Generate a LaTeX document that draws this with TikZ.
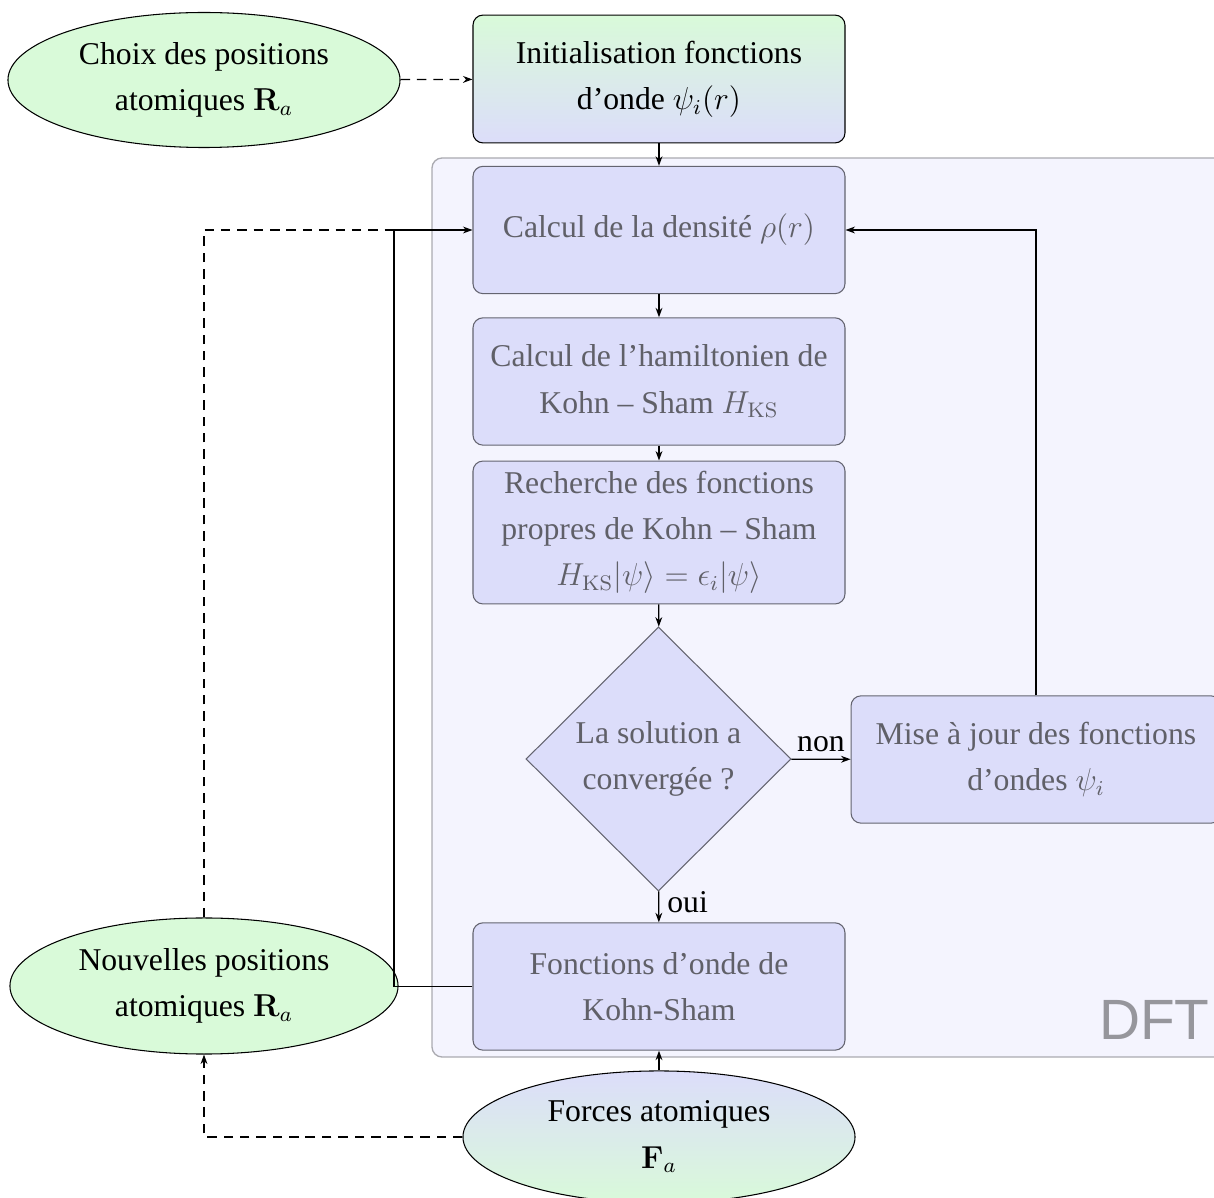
\documentclass[tikz,border=0pt]{standalone}
\usepackage[no-math]{fontspec}
\setmainfont{Liberation Serif}
\newfontfamily\dftfont{Liberation Sans}
\usetikzlibrary{shapes.geometric,arrows.meta}
\definecolor{ellgreen}{RGB}{217,250,217}
\definecolor{boxblue}{RGB}{220,221,250}
\definecolor{innerfill}{RGB}{220,221,250}
\definecolor{innerdraw}{RGB}{100,100,112}
\definecolor{innertext}{RGB}{96,96,104}
\definecolor{dftfill}{RGB}{244,244,254}
\definecolor{dftdraw}{RGB}{170,170,176}
\definecolor{dfttext}{RGB}{150,150,156}
\tikzset{
  txt/.style={font=\fontsize{12}{17.5}\selectfont, align=flush center, inner sep=0pt},
  outerbox/.style={txt, draw=black, rounded corners=3.8pt, minimum width=140.8pt, minimum height=48.4pt, text width=136pt},
  innerbox/.style={txt, draw=innerdraw, fill=innerfill, text=innertext, rounded corners=3.8pt, minimum width=140.8pt, minimum height=48.2pt, text width=136pt},
  ell/.style={txt, draw=black, ellipse, minimum width=148.4pt, minimum height=51.1pt},
  lbl/.style={font=\fontsize{12}{14}\selectfont, text=black},
  flow/.style={->, line width=0.45pt},
  dflow/.style={line width=0.45pt, dash pattern=on 3.6pt off 2.6pt},
  >={Stealth[length=3.6pt,width=2.6pt]}
}
\begin{document}
\begin{tikzpicture}[x=0.3785pt, y=-0.3785pt]
\useasboundingbox (0,0) rectangle (1214,1198);
\clip (0,0) rectangle (1214,1198);
% DFT region
\draw[draw=dftdraw, fill=dftfill, rounded corners=3.8pt, line width=0.5pt] (432,158) rectangle (1270,1057);
\node[anchor=base east, inner sep=0pt, text=dfttext, font=\dftfont\fontsize{21.5}{24}\selectfont] (dft) at (1210,1040) {DFT};

% outer nodes
\node[ell, fill=ellgreen] (choix) at (204,80) {Choix des positions\\ atomiques $\mathbf{R}_a$};
\node[outerbox, top color=ellgreen, bottom color=boxblue] (init) at (659,79) {Initialisation fonctions\\ d’onde $\psi_i(r)$};
\node[ell, fill=ellgreen, minimum width=146.9pt, minimum height=51.5pt] (nouv) at (204,986) {Nouvelles positions\\ atomiques $\mathbf{R}_a$};
\node[ell, top color=boxblue, bottom color=ellgreen, minimum height=50pt] (forces) at (659,1137) {Forces atomiques\\ $\mathbf{F}_a$};

% inner nodes
\node[innerbox] (calc) at (659,230) {Calcul de la densité $\rho(r)$};
\node[innerbox] (ham) at (659,381.5) {Calcul de l’hamiltonien de\\ Kohn -- Sham $H_{\mathrm{KS}}$};
\node[innerbox, minimum height=54.1pt] (rech) at (659,532.5) {Recherche des fonctions\\ propres de Kohn -- Sham\\ $H_{\mathrm{KS}}|\psi\rangle = \epsilon_i|\psi\rangle$};
\node[txt, diamond, draw=innerdraw, fill=innerfill, text=innertext, minimum width=100.3pt, minimum height=100pt] (dia) at (658.5,759) {La solution a\\ convergée ?};
\node[innerbox, minimum width=140pt, text width=136pt] (mise) at (1036,759.5) {Mise à jour des fonctions\\ d’ondes $\psi_i$};
\node[innerbox] (ks) at (659,986.5) {Fonctions d’onde de\\ Kohn-Sham};

\coordinate (kl) at (394,986.5);
\coordinate (kt) at (394,230);

% connectors
\draw[dflow, ->] (choix) -- (init);
\draw[flow] (init) -- (calc);
\draw[flow] (calc) -- (ham);
\draw[flow] (ham) -- (rech);
\draw[flow] (rech) -- (dia);
\draw[flow] (dia) -- node[lbl, above, inner sep=2.5pt] {non} (mise);
\draw[flow] (dia) -- node[lbl, right, inner sep=3pt, pos=0.35] {oui} (ks);
\draw[flow] (mise.north) |- (calc.east);
\draw[dflow] (nouv.north) |- (kt);
\draw[flow] (ks.west) -- (kl) |- (calc.west);
\draw[dflow, ->] (forces.west) -| (nouv.south);
\draw[flow] (forces.north) -- (ks.south);
\end{tikzpicture}
\end{document}
